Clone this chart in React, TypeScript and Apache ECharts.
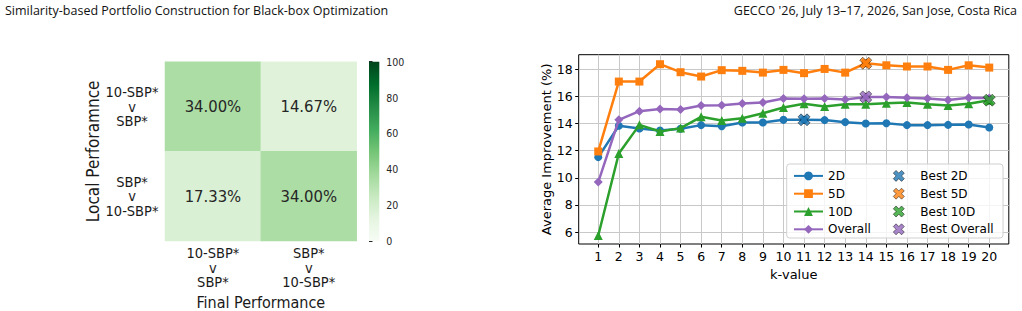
import React, { useEffect, useRef } from "react";
import * as echarts from "echarts";

const headerLeft = "Similarity-based Portfolio Construction for Black-box Optimization";
const headerRight = "GECCO '26, July 13–17, 2026, San Jose, Costa Rica";

// Heatmap data
const heatCols = ["10-SBP*\nv\nSBP*", "SBP*\nv\n10-SBP*"];
const heatRows = ["10-SBP*\nv\nSBP*", "SBP*\nv\n10-SBP*"];
const heatRow0 = [34.0, 14.67];
const heatRow1 = [17.33, 34.0];
const colorbarMin = 0;
const colorbarMax = 100;
const greens = ["#f7fcf5", "#e5f5e0", "#c7e9c0", "#a1d99b", "#74c476", "#41ab5d", "#238b45", "#006d2c", "#00441b"];

// Line chart data
const kValues = [1, 2, 3, 4, 5, 6, 7, 8, 9, 10, 11, 12, 13, 14, 15, 16, 17, 18, 19, 20];
const yTicks = [6, 8, 10, 12, 14, 16, 18];
const s2D = [11.52, 13.83, 13.63, 13.48, 13.61, 13.88, 13.8, 14.07, 14.07, 14.27, 14.27, 14.25, 14.1, 14.0, 14.02, 13.88, 13.88, 13.9, 13.93, 13.71];
const s5D = [11.94, 17.09, 17.09, 18.37, 17.78, 17.46, 17.93, 17.88, 17.75, 17.95, 17.71, 18.02, 17.75, 18.44, 18.29, 18.2, 18.2, 17.95, 18.29, 18.12];
const s10D = [5.75, 11.79, 13.9, 13.41, 13.66, 14.49, 14.22, 14.39, 14.76, 15.18, 15.45, 15.25, 15.42, 15.42, 15.5, 15.55, 15.42, 15.33, 15.45, 15.72];
const sOverall = [9.68, 14.27, 14.91, 15.06, 15.03, 15.33, 15.35, 15.47, 15.55, 15.84, 15.82, 15.84, 15.77, 15.96, 15.96, 15.89, 15.84, 15.74, 15.89, 15.87];
const seriesNames = ["2D", "5D", "10D", "Overall"];
const bestNames = ["Best 2D", "Best 5D", "Best 10D", "Best Overall"];
const bestK = [11, 14, 20, 14];

const colors = ["#1f77b4", "#ff7f0e", "#2ca02c", "#9467bd"];
const symbols = ["circle", "rect", "triangle", "diamond"];
const symbolSizes = [8, 8, 9, 9];
const xSymbol = "path://M7.5,0 L10,2.5 L7.5,5 L10,7.5 L7.5,10 L5,7.5 L2.5,10 L0,7.5 L2.5,5 L0,2.5 L2.5,0 L5,2.5 Z";

const COND = "'DejaVu Sans Condensed', 'DejaVu Sans', sans-serif";
const SANS = "'DejaVu Sans', sans-serif";
const HEAD = "'Open Sans', 'Liberation Sans', sans-serif";

export default function App() {
  const ref = useRef<HTMLDivElement>(null);
  useEffect(() => {
    document.body.style.margin = "0";
    const chart = echarts.init(ref.current!, null, { renderer: "svg" });
    const allSeries = [s2D, s5D, s10D, sOverall];
    const heatData: any[] = [];
    [heatRow0, heatRow1].forEach((row, r) => row.forEach((v, c) => heatData.push([c, r, v])));

    const lineSeries = allSeries.map((s, i) => ({
      name: seriesNames[i],
      type: "line",
      xAxisIndex: 2,
      yAxisIndex: 2,
      data: kValues.map((k, j) => [k, s[j]]),
      symbol: symbols[i],
      symbolSize: symbolSizes[i],
      showSymbol: true,
      lineStyle: { width: 2.5, color: colors[i] },
      itemStyle: { color: colors[i] },
      z: 2 + i * 0.1,
      emphasis: { disabled: true },
    }));
    const bestSeries = allSeries.map((s, i) => ({
      name: bestNames[i],
      type: "scatter",
      xAxisIndex: 2,
      yAxisIndex: 2,
      data: [[bestK[i], s[bestK[i] - 1]]],
      symbol: xSymbol,
      symbolSize: 12,
      itemStyle: { color: colors[i], borderColor: "#000", borderWidth: 0.6 },
      z: 4,
      emphasis: { disabled: true },
    }));

    chart.setOption({
      animation: false,
      textStyle: { fontFamily: SANS },
      graphic: [
        { type: "text", left: 5, top: 4, style: { text: headerLeft, fontSize: 12.5, fontFamily: HEAD, fill: "#111" } },
        { type: "text", right: 5, top: 4, style: { text: headerRight, fontSize: 12.5, fontFamily: HEAD, fill: "#111" } },
        {
          type: "rect",
          z: 5,
          shape: { x: 786.7, y: 164, width: 216.3, height: 74, r: 3 },
          style: { fill: "rgba(255,255,255,0.8)", stroke: "#d0d0d0", lineWidth: 1 },
        },
      ],
      grid: [
        { left: 165, top: 61.7, width: 191.7, height: 179.3, outerBoundsMode: "none", containLabel: false },
        { left: 369, top: 61.7, width: 10.3, height: 179.3, outerBoundsMode: "none", containLabel: false },
        { left: 578.7, top: 54.7, width: 430.1, height: 189.3, show: true, borderColor: "#000", borderWidth: 1, backgroundColor: "transparent", outerBoundsMode: "none", containLabel: false },
      ],
      xAxis: [
        {
          gridIndex: 0,
          type: "category",
          data: heatCols,
          axisLine: { show: false },
          axisTick: { alignWithLabel: true, length: 3.5, lineStyle: { color: "#262626" } },
          axisLabel: { fontSize: 14.5, fontFamily: COND, color: "#1a1a1a", lineHeight: 14.5, margin: 5 },
          splitLine: { show: false },
          name: "Final Performance",
          nameLocation: "middle",
          nameGap: 48,
          nameTextStyle: { fontSize: 16, fontFamily: COND, color: "#1a1a1a" },
        },
        { gridIndex: 1, type: "value", show: false, min: 0, max: 1 },
        {
          gridIndex: 2,
          type: "value",
          min: 0.05,
          max: 20.95,
          axisLine: { show: false },
          axisTick: { customValues: kValues, length: 3.5, lineStyle: { color: "#000" } },
          axisLabel: { customValues: kValues, fontSize: 12.5, color: "#000", margin: 6 },
          splitLine: { show: true, lineStyle: { color: "#c8c8c8", width: 1 } },
          name: "k-value",
          nameLocation: "middle",
          nameGap: 20,
          nameTextStyle: { fontSize: 13, color: "#000" },
        },
      ],
      yAxis: [
        {
          gridIndex: 0,
          type: "category",
          data: heatRows,
          inverse: true,
          axisLine: { show: false },
          axisTick: { alignWithLabel: true, length: 3.5, lineStyle: { color: "#262626" } },
          axisLabel: { align: "center", margin: 33, fontSize: 14.5, fontFamily: COND, color: "#1a1a1a", lineHeight: 14.5 },
          splitLine: { show: false },
          name: "Local Perforamnce",
          nameLocation: "middle",
          nameGap: 63,
          nameTextStyle: { fontSize: 17, fontFamily: COND, color: "#1a1a1a" },
        },
        {
          gridIndex: 1,
          type: "value",
          position: "right",
          min: colorbarMin,
          max: colorbarMax,
          interval: 20,
          axisLine: { show: false },
          axisTick: { show: true, length: 3.5, lineStyle: { color: "#262626" } },
          axisLabel: { fontSize: 10.5, margin: 7, color: "#262626", fontFamily: COND },
          splitLine: { show: false },
        },
        {
          gridIndex: 2,
          type: "value",
          min: 5.12,
          max: 19.07,
          axisLine: { show: false },
          axisTick: { show: true, customValues: yTicks, length: 3.5, lineStyle: { color: "#000" } },
          axisLabel: { customValues: yTicks, fontSize: 12.5, color: "#000", margin: 6 },
          splitLine: { show: true, lineStyle: { color: "#c8c8c8", width: 1 } },
          name: "Average Improvement (%)",
          nameLocation: "middle",
          nameGap: 25,
          nameTextStyle: { fontSize: 13, color: "#000" },
        },
      ],
      visualMap: {
        type: "continuous",
        show: false,
        min: colorbarMin,
        max: colorbarMax,
        seriesIndex: 0,
        inRange: { color: greens },
      },
      legend: [
        {
          data: seriesNames,
          orient: "vertical",
          left: 788,
          top: 162,
          itemWidth: 29,
          itemHeight: 11,
          itemGap: 0,
          z: 10,
          textStyle: { fontSize: 12, color: "#000", lineHeight: 17.8 },
        },
        {
          data: bestNames.map((n) => ({ name: n, icon: xSymbol })),
          orient: "vertical",
          left: 888,
          top: 162,
          itemWidth: 33,
          itemHeight: 11,
          itemGap: 0,
          z: 10,
          itemStyle: { borderWidth: 0.6 },
          textStyle: { fontSize: 12, color: "#000", lineHeight: 17.8 },
        },
      ],
      series: [
        {
          type: "heatmap",
          xAxisIndex: 0,
          yAxisIndex: 0,
          data: heatData,
          label: {
            show: true,
            formatter: (p: any) => p.value[2].toFixed(2) + "%",
            fontSize: 16.5,
            fontFamily: COND,
            color: "#262626",
          },
          itemStyle: { borderWidth: 0 },
          emphasis: { disabled: true },
        },
        {
          type: "custom",
          xAxisIndex: 1,
          yAxisIndex: 1,
          data: [[0, 0]],
          silent: true,
          renderItem: (params: any) => {
            const cs = params.coordSys;
            return {
              type: "rect",
              shape: { x: cs.x, y: cs.y, width: cs.width, height: cs.height },
              style: {
                fill: new echarts.graphic.LinearGradient(
                  0, 1, 0, 0,
                  greens.map((c, i) => ({ offset: i / (greens.length - 1), color: c }))
                ),
              },
            };
          },
        },
        ...lineSeries,
        ...bestSeries,
      ],
    });
    return () => chart.dispose();
  }, []);
  return <div ref={ref} style={{ width: 1022, height: 311 }} />;
}
